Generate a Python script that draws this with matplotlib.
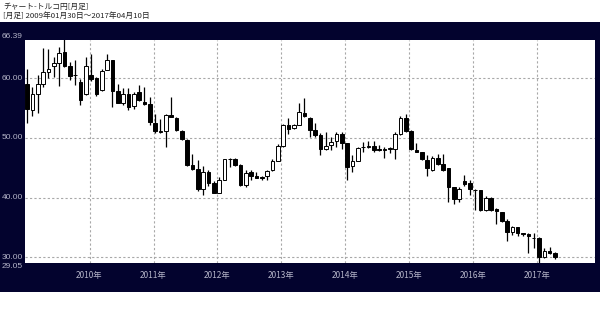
import matplotlib
matplotlib.use("Agg")
import matplotlib.pyplot as plt

plt.rcParams['font.family'] = ['Noto Sans CJK JP', 'DejaVu Sans']

# Monthly OHLC, Jan 2009 .. Apr 2017 (TRY/JPY)
opens = [59.0, 54.6, 57.3, 59.1, 61.1, 62.0, 62.5, 64.4, 62.1, 60.6, 59.4, 57.3,
         60.6, 60.1, 58.0, 61.4, 63.0, 57.9, 55.9, 57.3, 55.3, 57.6, 56.0, 55.6,
         52.5, 51.0, 51.2, 53.9, 53.4, 51.1, 49.6, 45.4, 44.8, 41.5, 44.3, 42.5,
         40.8, 43.0, 46.4, 46.4, 45.5, 42.1, 44.3, 43.6, 43.45, 43.6, 44.6, 46.2,
         48.6, 52.1, 51.6, 52.2, 54.2, 53.4, 51.4, 50.5, 48.2, 48.8, 49.5, 50.6,
         49.1, 45.3, 46.2, 48.4, 48.5, 48.6, 48.05, 47.9, 48.2, 48.2, 50.6, 53.4,
         51.2, 48.0, 47.7, 46.3, 44.7, 46.7, 45.6, 45.0, 41.7, 39.8, 42.8, 42.5,
         41.3, 41.2, 38.0, 40.0, 38.1, 37.6, 36.1, 34.3, 35.0, 33.95, 33.9, 33.3,
         33.3, 30.0, 31.1, 30.8]
highs = [61.5, 58.5, 60.5, 65.0, 64.8, 63.5, 65.2, 66.6, 62.7, 63.1, 59.9, 63.6,
         64.0, 60.2, 61.5, 64.0, 63.1, 59.1, 58.3, 58.3, 57.7, 58.8, 58.5, 56.9,
         54.0, 53.2, 54.0, 56.9, 53.5, 51.3, 49.8, 47.3, 46.3, 45.3, 44.6, 42.7,
         43.4, 46.5, 46.7, 46.7, 45.7, 44.6, 44.6, 44.3, 43.6, 44.7, 46.4, 48.9,
         52.3, 53.4, 52.3, 55.8, 56.6, 53.5, 52.5, 50.8, 51.0, 50.2, 51.0, 51.0,
         49.2, 47.1, 48.5, 49.3, 49.5, 49.5, 48.8, 48.4, 48.5, 51.0, 53.6, 54.0,
         51.4, 49.2, 47.7, 47.1, 47.0, 47.3, 47.3, 45.0, 41.8, 41.8, 43.8, 42.9,
         41.4, 41.3, 40.3, 40.1, 38.2, 37.6, 36.4, 35.2, 35.1, 34.1, 34.0, 34.0,
         33.4, 31.5, 31.7, 30.9]
lows = [52.5, 53.6, 54.1, 58.5, 60.0, 60.2, 58.7, 61.9, 59.7, 58.8, 55.5, 57.2,
        59.5, 57.0, 57.9, 61.3, 55.1, 55.8, 55.5, 54.6, 54.9, 56.2, 55.5, 52.1,
        50.9, 50.8, 48.5, 53.5, 51.1, 49.6, 45.3, 44.6, 41.1, 40.5, 42.0, 40.7,
        40.7, 42.9, 45.2, 45.3, 42.0, 41.7, 42.9, 43.2, 42.9, 42.9, 44.5, 46.2,
        48.5, 50.6, 51.5, 52.1, 53.5, 50.2, 50.2, 47.1, 47.9, 47.9, 48.5, 48.2,
        43.0, 44.3, 46.1, 47.7, 48.3, 47.7, 47.8, 46.6, 47.5, 46.4, 50.5, 51.0,
        48.0, 47.6, 46.3, 43.6, 44.4, 45.4, 44.4, 39.3, 39.0, 39.3, 42.0, 40.4,
        38.0, 37.8, 37.8, 37.8, 35.5, 35.9, 32.8, 33.7, 33.5, 33.5, 30.7, 31.6,
        28.7, 29.9, 30.6, 29.8]
closes = [54.8, 57.3, 59.1, 61.1, 61.6, 62.6, 64.2, 62.0, 60.4, 60.5, 56.4, 62.0,
          59.8, 57.3, 61.2, 63.0, 57.9, 55.9, 57.3, 55.2, 57.4, 56.3, 55.6, 52.6,
          51.2, 51.1, 53.8, 53.5, 51.3, 49.8, 45.4, 44.8, 41.4, 44.3, 42.5, 40.8,
          42.9, 46.4, 46.45, 45.5, 42.1, 44.2, 43.6, 43.3, 43.35, 44.5, 46.2, 48.7,
          52.1, 51.5, 52.1, 54.3, 53.6, 51.4, 50.5, 48.1, 48.7, 49.3, 50.6, 49.1,
          45.2, 46.2, 48.3, 48.5, 48.7, 48.0, 48.0, 48.2, 48.25, 50.6, 53.4, 51.2,
          48.2, 47.7, 46.4, 44.9, 46.7, 45.7, 44.7, 41.7, 39.7, 41.4, 42.3, 41.4,
          41.2, 38.0, 40.0, 37.9, 37.7, 36.0, 34.3, 35.1, 34.0, 33.9, 33.5, 33.2,
          30.0, 31.1, 30.8, 30.0]

year_labels = ["2010年", "2011年", "2012年", "2013年", "2014年", "2015年", "2016年", "2017年"]
year_start_index = [12, 24, 36, 48, 60, 72, 84, 96]
y_grid_values = [30, 40, 50, 60]
y_min, y_max = 29.05, 66.39

title1 = "チャート-トルコ円[月足]"
title2 = "[月足] 2009年01月30日～2017年04月10日"

W, H = 600, 312
fig = plt.figure(figsize=(W / 100, H / 100), dpi=100, facecolor='white')

navy = '#03032e'
label_col = '#b4b4c8'

# dark band (background axes)
bg = fig.add_axes([0, (H - 292) / H, 1, (292 - 22) / H], zorder=-5)
bg.set_facecolor(navy)
bg.set_xticks([])
bg.set_yticks([])
for s in bg.spines.values():
    s.set_visible(False)

ax = fig.add_axes([25 / W, (H - 263) / H, 570 / W, 223 / H], zorder=1)
ax.set_facecolor('white')
for s in ax.spines.values():
    s.set_visible(False)

n = len(opens)
xs = list(range(n))

# grid
for v in y_grid_values:
    ax.axhline(v, color='#a8a8a8', lw=0.8, ls=(0, (2, 2)), zorder=1)
for xi in year_start_index:
    ax.axvline(xi - 0.3, color='#a8a8a8', lw=0.8, ls=(0, (2, 2)), zorder=1)

# candles
ax.vlines(xs, lows, highs, color='black', lw=0.9, zorder=2)
bottoms = [min(o, c) for o, c in zip(opens, closes)]
heights = [max(abs(c - o), 0.1) for o, c in zip(opens, closes)]
colors = ['white' if c > o else 'black' for o, c in zip(opens, closes)]
ax.bar(xs, heights, bottom=bottoms, width=0.68, color=colors,
       edgecolor='black', linewidth=0.7, zorder=3)

ax.set_xlim(-0.4, 106.5)
ax.set_ylim(y_min, y_max)
ax.set_xticks([])
ax.set_yticks([])

# y labels (placed in figure pixels via axes transform)
fs = 6.0
yfam = ['Liberation Sans', 'DejaVu Sans']
ytr = ax.get_yaxis_transform()
for v in y_grid_values:
    ax.text(-0.004, v, f"{v:.2f}", transform=ytr, ha='right', va='center',
            fontsize=fs, color=label_col, family=yfam)
ax.text(-0.004, y_max, f"{y_max:.2f}", transform=ytr, ha='right', va='bottom',
        fontsize=fs, color=label_col, family=yfam)
ax.text(-0.004, y_min, f"{y_min:.2f}", transform=ytr, ha='right', va='top',
        fontsize=fs, color=label_col, family=yfam)

# x labels
for xi, lab in zip(year_start_index, year_labels):
    ax.text(xi - 0.3, -0.055, lab, transform=ax.get_xaxis_transform(),
            ha='center', va='center', fontsize=6.0, color=label_col)

fig.text(3 / W, 1 - 7 / H, title1, ha='left', va='center', fontsize=5.6, color='#222222')
fig.text(3 / W, 1 - 16 / H, title2, ha='left', va='center', fontsize=5.6, color='#222222')

fig.savefig('out.png', dpi=100, facecolor='white')
